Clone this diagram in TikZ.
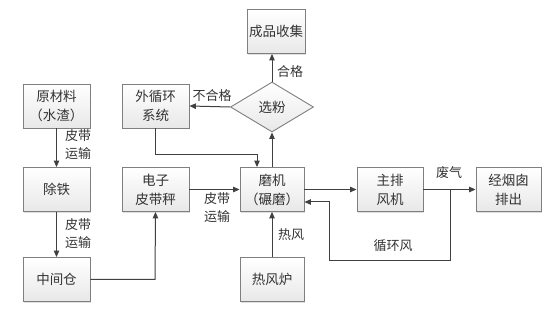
\documentclass[tikz,border=0pt]{standalone}
\usepackage{fontspec}
\newfontfamily\cjk{Noto Sans CJK SC}
\usetikzlibrary{shapes.geometric,arrows.meta,shadows}
\definecolor{txt}{HTML}{333333}
\definecolor{bord}{HTML}{7F7F7F}
\definecolor{ln}{HTML}{404040}
\tikzset{
  box/.style={draw=bord, line width=0.9pt, top color=white, bottom color=black!9,
    minimum width=67pt, minimum height=44pt, inner sep=1pt, align=center,
    font=\cjk\fontsize{13.5}{19}\selectfont, text=txt,
    drop shadow={shadow xshift=1.2pt, shadow yshift=-1.2pt, opacity=0.25}},
  dia/.style={draw=bord, line width=0.9pt, shape=diamond, top color=white, bottom color=black!9,
    minimum width=83pt, minimum height=50pt, inner sep=0pt,
    font=\cjk\fontsize{13.5}{19}\selectfont, text=txt},
  conn/.style={draw=ln, line width=1pt, -{Triangle[length=6.5pt,width=5.5pt]}},
  lbl/.style={font=\cjk\fontsize{13}{18}\selectfont, text=txt, align=center, inner sep=0pt}
}
\begin{document}
\begin{tikzpicture}[x=1pt,y=-1pt]
\useasboundingbox (0,0) rectangle (558,315);
\node[box] (raw) at (56.5,106) {原材料\\（水渣）};
\node[box] (fe) at (56.5,189.5) {除铁};
\node[box] (mid) at (56.5,279.5) {中间仓};
\node[box] (ext) at (155.5,106) {外循环\\系统};
\node[box] (scale) at (155.5,189.5) {电子\\皮带秤};
\node[box, minimum width=58pt] (prod) at (276,31.5) {成品收集};
\node[dia] (sel) at (272,107) {选粉};
\node[box, minimum width=64pt] (mill) at (272,189.5) {磨机\\（碾磨）};
\node[box, minimum width=64pt] (hot) at (272,279.5) {热风炉};
\node[box, minimum width=66pt] (fan) at (390,189.5) {主排\\风机};
\node[box, minimum width=65pt] (chim) at (508.5,189.5) {经烟囱\\排出};

\coordinate (c1) at (155,279.5);
\coordinate (c2) at (155.5,155);
\coordinate (c3) at (257,155);
\coordinate (b1) at (450,189.5);
\coordinate (b2) at (450,261);
\coordinate (b3) at (329,261);
\coordinate (b4) at (329,202);

\draw[conn] (raw) -- (fe);
\draw[conn] (fe) -- (mid);
\draw[conn] (mid.east) -- (c1) -- (scale.south);
\draw[conn] (scale) -- (mill);
\draw[conn] (ext.south) -- (c2) -- (c3) -- (c3 |- mill.north);
\draw[conn] (mill.north) -- (sel.south);
\draw[conn] (sel.north) -- (sel.north |- prod.south);
\draw[conn] (sel.west) -- (ext.east);
\draw[conn] (hot) -- (mill);
\draw[conn] (mill) -- (fan);
\draw[conn] (fan) -- (chim);
\draw[conn] (b1) -- (b2) -- (b3) -- (b4) -- (b4 -| mill.east);

\node[lbl] (l1) at (78,145) {皮带\\运输};
\node[lbl] (l2) at (78,234) {皮带\\运输};
\node[lbl] (l3) at (217,208) {皮带\\运输};
\node[lbl] (l4) at (290,72) {合格};
\node[lbl] (l5) at (212,96) {不合格};
\node[lbl] (l6) at (291,235) {热风};
\node[lbl] (l7) at (449,173) {废气};
\node[lbl] (l8) at (393,246) {循环风};
\end{tikzpicture}
\end{document}
